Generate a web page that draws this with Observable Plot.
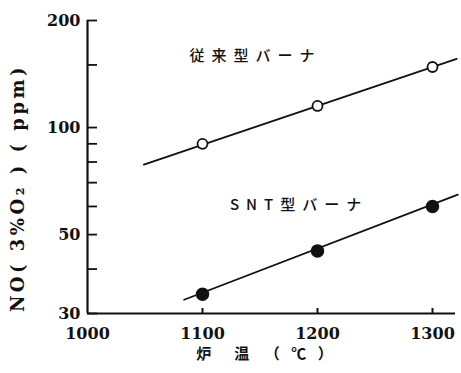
<!DOCTYPE html>
<html><head><meta charset="utf-8">
<script src="https://cdn.jsdelivr.net/npm/d3@7"></script>
<script src="https://cdn.jsdelivr.net/npm/@observablehq/plot@0.6"></script>
<style>body{margin:0;background:#fff}</style>
</head><body><div id="chart"></div>
<script>
const temps = [1100, 1200, 1300];
const conventionalNO = [90, 115, 148];
const sntNO = [34, 45, 60];
const conventionalFitX = [1049, 1321];
const conventionalFitY = [78.7, 156];
const sntFitX = [1084, 1322];
const sntFitY = [32.8, 64.8];
const xTicks = [1000, 1100, 1200, 1300];
const yTickLabels = [30, 50, 100, 200];
const yTicksAll = [30, 40, 50, 60, 70, 80, 90, 100, 150, 200];
const seriesLabels = ["従来型バーナ", "SNT型バーナ"];
const labelX = [1146, 1184];
const labelY = [159, 60.5];
const xTitle = "炉　温　（ ℃ ）";
const yTitle = "NO( 3%O₂ ) ( ppm)";

const conv = temps.map((t, i) => ({x: t, y: conventionalNO[i]}));
const snt = temps.map((t, i) => ({x: t, y: sntNO[i]}));
const convFit = conventionalFitX.map((x, i) => ({x, y: conventionalFitY[i]}));
const sntFit = sntFitX.map((x, i) => ({x, y: sntFitY[i]}));
const labels = seriesLabels.map((t, i) => ({t, x: labelX[i], y: labelY[i]}));

const serif = "'DejaVu Serif', 'Liberation Serif', serif";
const cjk = "'Noto Sans CJK JP', sans-serif";
const W = 461, H = 373, mL = 87, mR = 6, mT = 20, mB = 60;

const chart = Plot.plot({
  width: W, height: H,
  marginLeft: mL, marginRight: mR, marginTop: mT, marginBottom: mB,
  style: {background: "#fff", color: "#111"},
  x: {domain: [1000, 1320]},
  y: {type: "log", domain: [30, 200]},
  marks: [
    Plot.tickY(yTicksAll, {y: d => d, insetRight: W - mL - mR - 10, stroke: "#111", strokeWidth: 1.8}),
    Plot.tickX(xTicks.slice(1), {x: d => d, insetTop: H - mT - mB - 5, stroke: "#111", strokeWidth: 2}),
    Plot.axisY({ticks: yTickLabels, tickSize: 0, tickPadding: 7, tickFormat: d => String(d),
      fontSize: 16, fontWeight: "bold", fontFamily: serif, label: null}),
    Plot.axisX({ticks: xTicks, tickSize: 0, tickPadding: 14, tickFormat: d => String(d),
      fontSize: 16, fontWeight: "bold", fontFamily: serif, label: null}),
    Plot.text([yTitle], {text: d => d, frameAnchor: "left", textAnchor: "middle", rotate: -90, dx: -69, dy: 21,
      fontSize: 18, fontWeight: "bold", fontFamily: serif}),
    Plot.text([xTitle], {text: d => d, frameAnchor: "bottom", dx: -5, dy: 45,
      fontSize: 15, fontWeight: "bold", fontFamily: cjk}),
    Plot.ruleX([1000], {strokeWidth: 2.2}),
    Plot.ruleY([30], {strokeWidth: 2.2}),
    Plot.line(convFit, {x: "x", y: "y", strokeWidth: 1.8}),
    Plot.line(sntFit, {x: "x", y: "y", strokeWidth: 1.8}),
    Plot.dot(conv, {x: "x", y: "y", r: 5, stroke: "#111", fill: "#fff", strokeWidth: 1.8}),
    Plot.dot(snt, {x: "x", y: "y", r: 6, fill: "#111", stroke: "#111"}),
    Plot.text(labels, {x: "x", y: "y", text: "t", fontSize: 15, fontFamily: cjk, fontWeight: 500})
  ]
});
d3.select(chart).selectAll("text").each(function () {
  const t = this.textContent;
  if (seriesLabels.includes(t)) this.style.letterSpacing = "7px";
  else if (t === yTitle) this.style.letterSpacing = "3.5px";
  else if (t === xTitle) this.style.letterSpacing = "4px";
});
document.getElementById("chart").appendChild(chart);
</script>
</body></html>
